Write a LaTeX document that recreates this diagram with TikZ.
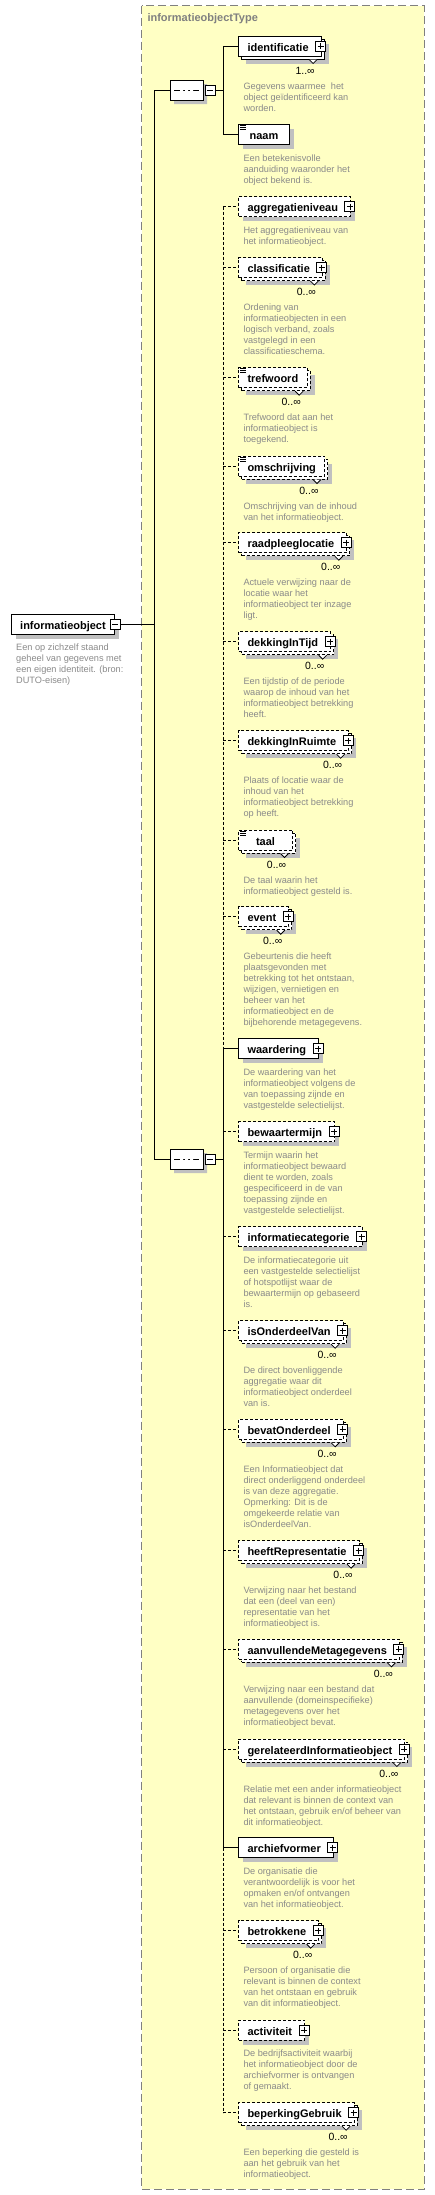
\documentclass[tikz,border=0pt]{standalone}
\usepackage{fontspec}
\setmainfont{Liberation Sans}
\usepackage{xcolor}
\usetikzlibrary{positioning, shapes.misc, shadows}

\definecolor{paneyellow}{RGB}{255,255,196}
\definecolor{paneline}{RGB}{128,128,128}
\definecolor{doctext}{RGB}{138,138,138}
\definecolor{shade}{RGB}{192,192,192}

\begin{document}
\begin{tikzpicture}[
  x=1pt, y=-1pt,
  line width=1pt,
  every node/.style={inner sep=0pt},
  pane/.style    ={draw=paneline, fill=paneyellow, line width=1.2pt, dash pattern=on 8pt off 4pt},
  typename/.style={font=\fontsize{11}{13}\selectfont\bfseries, text=paneline},
  opt/.style     ={dash pattern=on 3pt off 2pt},
  elem/.style    ={draw, fill=white, minimum height=20pt, text height=10pt, text depth=0pt,
                   inner xsep=9pt, anchor=west, font=\fontsize{11}{13}\selectfont\bfseries},
  one/.style     ={elem, general shadow={fill=shade, shadow xshift=4.5pt, shadow yshift=-4.5pt}},
  many/.style    ={elem, general shadow={fill=shade, shadow xshift=7.5pt, shadow yshift=-7.5pt},
                   general shadow={draw, fill=white, shadow xshift=3pt, shadow yshift=-3pt}},
  manyopt/.style ={elem, opt, general shadow={fill=shade, shadow xshift=7.5pt, shadow yshift=-7.5pt},
                   general shadow={draw, fill=white, opt, shadow xshift=3pt, shadow yshift=-3pt}},
  kids/.style    ={execute at end node=\hspace{3.5pt}},
  expand/.style  ={draw, fill=white, minimum size=10pt,
                   path picture={\draw[line width=.9pt]
                     ([xshift=2pt]path picture bounding box.west) -- ([xshift=-2pt]path picture bounding box.east)
                     ([yshift=-2pt]path picture bounding box.north) -- ([yshift=2pt]path picture bounding box.south);}},
  collapse/.style={draw, fill=white, minimum size=10pt,
                   path picture={\draw[line width=.9pt]
                     ([xshift=2pt]path picture bounding box.west) -- ([xshift=-2pt]path picture bounding box.east);}},
  seq/.style     ={chamfered rectangle, chamfered rectangle xsep=5pt, draw, fill=white,
                   minimum width=33pt, minimum height=20pt,
                   general shadow={fill=shade, shadow xshift=4pt, shadow yshift=-4pt},
                   path picture={
                     \draw ([xshift=-12.5pt]path picture bounding box.center) -- ([xshift=12.5pt]path picture bounding box.center);
                     \fill ([xshift=-6.5pt,yshift=1.5pt]path picture bounding box.center) rectangle ++(3,3)
                           ([xshift=-1.5pt,yshift=1.5pt]path picture bounding box.center) rectangle ++(3,3)
                           ([xshift=3.5pt,yshift=1.5pt]path picture bounding box.center) rectangle ++(3,3);}},
  mult/.style    ={anchor=base, font=\fontsize{10.5}{12}\selectfont},
  desc/.style    ={align=left, font=\fontsize{9.2}{11}\selectfont, text=doctext},
  notch/.style   ={fill=white, line width=.8pt},
  typemark/.style={line width=.8pt},
]
\useasboundingbox (0,0) rectangle (435,2195);

% ---- complex type frame ---------------------------------------------------
\draw[pane] (141.7,5.7) rectangle (424.3,2189.3);
\node[typename, anchor=base west] (typename) at (147,21) {informatieobjectType};

% ---- root element -----------------------------------------------------------
\node[one] (root) at (10.7,624) {informatieobject};
\node[collapse] (root-x) at (root.east) {};
\node[desc, below right=8.6pt and 5pt of root.south west] (root-doc)
  {Een op zichzelf staand\\geheel van gegevens met\\een eigen identiteit. (bron:\\DUTO-eisen)};

% ---- sequence compositors ---------------------------------------------------
\node[seq] (seqA) at (186.5,90) {};
\node[collapse, right=1pt of seqA] (seqA-x) {};
\node[seq] (seqB) at (186.5,1159) {};
\node[collapse, right=1pt of seqB] (seqB-x) {};

% ---- first sequence ---------------------------------------------------------
\node[many, kids] (identificatie) at (238,46) {identificatie};
\node[expand] (identificatie-x) at ([xshift=-1pt]identificatie.east) {};
\draw[notch] ([xshift=-12.5pt,yshift=-3pt]identificatie.south east) -- ++(4,4) -- ++(4,-4);
\node[mult] (identificatie-n) at ([xshift=-16.5pt,yshift=-17.5pt]identificatie.south east) {1..∞};
\node[desc, below right=25.5pt and 5pt of identificatie.south west] (identificatie-doc)
  {Gegevens waarmee~ het\\object geïdentificeerd kan\\worden.};

\node[one, minimum width=51pt] (naam) at (238,134.5) {naam};
\draw[typemark] ([xshift=2pt,yshift=-1.5pt]naam.north west) -- ++(6,0)
                ([xshift=2pt,yshift=-3.5pt]naam.north west) -- ++(6,0)
                ([xshift=2pt,yshift=-5.5pt]naam.north west) -- ++(6,0);
\node[desc, below right=9pt and 5pt of naam.south west] (naam-doc)
  {Een betekenisvolle\\aanduiding waaronder het\\object bekend is.};

% ---- second sequence --------------------------------------------------------
\node[one, opt, kids] (aggregatieniveau) at (238,206.5) {aggregatieniveau};
\node[expand] (aggregatieniveau-x) at ([xshift=-1pt]aggregatieniveau.east) {};
\node[desc, below right=9pt and 5pt of aggregatieniveau.south west] (aggregatieniveau-doc)
  {Het aggregatieniveau van\\het informatieobject.};

\node[manyopt, kids] (classificatie) at (238,267.5) {classificatie};
\node[expand] (classificatie-x) at ([xshift=-1pt]classificatie.east) {};
\draw[notch] ([xshift=-12.5pt,yshift=-3pt]classificatie.south east) -- ++(4,4) -- ++(4,-4);
\node[mult] (classificatie-n) at ([xshift=-16.5pt,yshift=-17.5pt]classificatie.south east) {0..∞};
\node[desc, below right=25.5pt and 5pt of classificatie.south west] (classificatie-doc)
  {Ordening van\\informatieobjecten in een\\logisch verband, zoals\\vastgelegd in een\\classificatieschema.};

\node[manyopt] (trefwoord) at (238,377.7) {trefwoord};
\draw[typemark] ([xshift=2pt,yshift=-1.5pt]trefwoord.north west) -- ++(6,0)
                ([xshift=2pt,yshift=-3.5pt]trefwoord.north west) -- ++(6,0)
                ([xshift=2pt,yshift=-5.5pt]trefwoord.north west) -- ++(6,0);
\draw[notch] ([xshift=-12.5pt,yshift=-3pt]trefwoord.south east) -- ++(4,4) -- ++(4,-4);
\node[mult] (trefwoord-n) at ([xshift=-16.5pt,yshift=-17.5pt]trefwoord.south east) {0..∞};
\node[desc, below right=25.5pt and 5pt of trefwoord.south west] (trefwoord-doc)
  {Trefwoord dat aan het\\informatieobject is\\toegekend.};

\node[manyopt] (omschrijving) at (238,466) {omschrijving};
\draw[typemark] ([xshift=2pt,yshift=-1.5pt]omschrijving.north west) -- ++(6,0)
                ([xshift=2pt,yshift=-3.5pt]omschrijving.north west) -- ++(6,0)
                ([xshift=2pt,yshift=-5.5pt]omschrijving.north west) -- ++(6,0);
\draw[notch] ([xshift=-12.5pt,yshift=-3pt]omschrijving.south east) -- ++(4,4) -- ++(4,-4);
\node[mult] (omschrijving-n) at ([xshift=-16.5pt,yshift=-17.5pt]omschrijving.south east) {0..∞};
\node[desc, below right=25.5pt and 5pt of omschrijving.south west] (omschrijving-doc)
  {Omschrijving van de inhoud\\van het informatieobject.};

\node[manyopt, kids] (raadpleeglocatie) at (238,542.7) {raadpleeglocatie};
\node[expand] (raadpleeglocatie-x) at ([xshift=-1pt]raadpleeglocatie.east) {};
\draw[notch] ([xshift=-12.5pt,yshift=-3pt]raadpleeglocatie.south east) -- ++(4,4) -- ++(4,-4);
\node[mult] (raadpleeglocatie-n) at ([xshift=-16.5pt,yshift=-17.5pt]raadpleeglocatie.south east) {0..∞};
\node[desc, below right=25.5pt and 5pt of raadpleeglocatie.south west] (raadpleeglocatie-doc)
  {Actuele verwijzing naar de\\locatie waar het\\informatieobject ter inzage\\ligt.};

\node[manyopt, kids] (dekkingInTijd) at (238,641.7) {dekkingInTijd};
\node[expand] (dekkingInTijd-x) at ([xshift=-1pt]dekkingInTijd.east) {};
\draw[notch] ([xshift=-12.5pt,yshift=-3pt]dekkingInTijd.south east) -- ++(4,4) -- ++(4,-4);
\node[mult] (dekkingInTijd-n) at ([xshift=-16.5pt,yshift=-17.5pt]dekkingInTijd.south east) {0..∞};
\node[desc, below right=25.5pt and 5pt of dekkingInTijd.south west] (dekkingInTijd-doc)
  {Een tijdstip of de periode\\waarop de inhoud van het\\informatieobject betrekking\\heeft.};

\node[manyopt, kids] (dekkingInRuimte) at (238,740.7) {dekkingInRuimte};
\node[expand] (dekkingInRuimte-x) at ([xshift=-1pt]dekkingInRuimte.east) {};
\draw[notch] ([xshift=-12.5pt,yshift=-3pt]dekkingInRuimte.south east) -- ++(4,4) -- ++(4,-4);
\node[mult] (dekkingInRuimte-n) at ([xshift=-16.5pt,yshift=-17.5pt]dekkingInRuimte.south east) {0..∞};
\node[desc, below right=25.5pt and 5pt of dekkingInRuimte.south west] (dekkingInRuimte-doc)
  {Plaats of locatie waar de\\inhoud van het\\informatieobject betrekking\\op heeft.};

\node[manyopt, minimum width=54pt] (taal) at (238,840) {taal};
\draw[typemark] ([xshift=2pt,yshift=-1.5pt]taal.north west) -- ++(6,0)
                ([xshift=2pt,yshift=-3.5pt]taal.north west) -- ++(6,0)
                ([xshift=2pt,yshift=-5.5pt]taal.north west) -- ++(6,0);
\draw[notch] ([xshift=-12.5pt,yshift=-3pt]taal.south east) -- ++(4,4) -- ++(4,-4);
\node[mult] (taal-n) at ([xshift=-16.5pt,yshift=-17.5pt]taal.south east) {0..∞};
\node[desc, below right=25.5pt and 5pt of taal.south west] (taal-doc)
  {De taal waarin het\\informatieobject gesteld is.};

\node[manyopt, kids] (event) at (238,916.7) {event};
\node[expand] (event-x) at ([xshift=-1pt]event.east) {};
\draw[notch] ([xshift=-12.5pt,yshift=-3pt]event.south east) -- ++(4,4) -- ++(4,-4);
\node[mult] (event-n) at ([xshift=-16.5pt,yshift=-17.5pt]event.south east) {0..∞};
\node[desc, below right=25.5pt and 5pt of event.south west] (event-doc)
  {Gebeurtenis die heeft\\plaatsgevonden met\\betrekking tot het ontstaan,\\wijzigen, vernietigen en\\beheer van het\\informatieobject en de\\bijbehorende metagegevens.};

\node[one, kids] (waardering) at (238,1048.7) {waardering};
\node[expand] (waardering-x) at ([xshift=-1pt]waardering.east) {};
\node[desc, below right=9pt and 5pt of waardering.south west] (waardering-doc)
  {De waardering van het\\informatieobject volgens de\\van toepassing zijnde en\\vastgestelde selectielijst.};

\node[one, opt, kids] (bewaartermijn) at (238,1131.7) {bewaartermijn};
\node[expand] (bewaartermijn-x) at ([xshift=-1pt]bewaartermijn.east) {};
\node[desc, below right=9pt and 5pt of bewaartermijn.south west] (bewaartermijn-doc)
  {Termijn waarin het\\informatieobject bewaard\\dient te worden, zoals\\gespecificeerd in de van\\toepassing zijnde en\\vastgestelde selectielijst.};

\node[one, opt, kids] (informatiecategorie) at (238,1236.7) {informatiecategorie};
\node[expand] (informatiecategorie-x) at ([xshift=-1pt]informatiecategorie.east) {};
\node[desc, below right=9pt and 5pt of informatiecategorie.south west] (informatiecategorie-doc)
  {De informatiecategorie uit\\een vastgestelde selectielijst\\of hotspotlijst waar de\\bewaartermijn op gebaseerd\\is.};

\node[manyopt, kids] (isOnderdeelVan) at (238,1330.7) {isOnderdeelVan};
\node[expand] (isOnderdeelVan-x) at ([xshift=-1pt]isOnderdeelVan.east) {};
\draw[notch] ([xshift=-12.5pt,yshift=-3pt]isOnderdeelVan.south east) -- ++(4,4) -- ++(4,-4);
\node[mult] (isOnderdeelVan-n) at ([xshift=-16.5pt,yshift=-17.5pt]isOnderdeelVan.south east) {0..∞};
\node[desc, below right=25.5pt and 5pt of isOnderdeelVan.south west] (isOnderdeelVan-doc)
  {De direct bovenliggende\\aggregatie waar dit\\informatieobject onderdeel\\van is.};

\node[manyopt, kids] (bevatOnderdeel) at (238,1429.3) {bevatOnderdeel};
\node[expand] (bevatOnderdeel-x) at ([xshift=-1pt]bevatOnderdeel.east) {};
\draw[notch] ([xshift=-12.5pt,yshift=-3pt]bevatOnderdeel.south east) -- ++(4,4) -- ++(4,-4);
\node[mult] (bevatOnderdeel-n) at ([xshift=-16.5pt,yshift=-17.5pt]bevatOnderdeel.south east) {0..∞};
\node[desc, below right=25.5pt and 5pt of bevatOnderdeel.south west] (bevatOnderdeel-doc)
  {Een Informatieobject dat\\direct onderliggend onderdeel\\is van deze aggregatie.\\Opmerking: Dit is de\\omgekeerde relatie van\\isOnderdeelVan.};

\node[manyopt, kids] (heeftRepresentatie) at (238,1550.7) {heeftRepresentatie};
\node[expand] (heeftRepresentatie-x) at ([xshift=-1pt]heeftRepresentatie.east) {};
\draw[notch] ([xshift=-12.5pt,yshift=-3pt]heeftRepresentatie.south east) -- ++(4,4) -- ++(4,-4);
\node[mult] (heeftRepresentatie-n) at ([xshift=-16.5pt,yshift=-17.5pt]heeftRepresentatie.south east) {0..∞};
\node[desc, below right=25.5pt and 5pt of heeftRepresentatie.south west] (heeftRepresentatie-doc)
  {Verwijzing naar het bestand\\dat een (deel van een)\\representatie van het\\informatieobject is.};

\node[manyopt, kids] (aanvullendeMetagegevens) at (238,1649.3) {aanvullendeMetagegevens};
\node[expand] (aanvullendeMetagegevens-x) at ([xshift=-1pt]aanvullendeMetagegevens.east) {};
\draw[notch] ([xshift=-12.5pt,yshift=-3pt]aanvullendeMetagegevens.south east) -- ++(4,4) -- ++(4,-4);
\node[mult] (aanvullendeMetagegevens-n) at ([xshift=-16.5pt,yshift=-17.5pt]aanvullendeMetagegevens.south east) {0..∞};
\node[desc, below right=25.5pt and 5pt of aanvullendeMetagegevens.south west] (aanvullendeMetagegevens-doc)
  {Verwijzing naar een bestand dat\\aanvullende (domeinspecifieke)\\metagegevens over het\\informatieobject bevat.};

\node[manyopt, kids] (gerelateerdInformatieobject) at (238,1749) {gerelateerdInformatieobject};
\node[expand] (gerelateerdInformatieobject-x) at ([xshift=-1pt]gerelateerdInformatieobject.east) {};
\draw[notch] ([xshift=-12.5pt,yshift=-3pt]gerelateerdInformatieobject.south east) -- ++(4,4) -- ++(4,-4);
\node[mult] (gerelateerdInformatieobject-n) at ([xshift=-16.5pt,yshift=-17.5pt]gerelateerdInformatieobject.south east) {0..∞};
\node[desc, below right=25.5pt and 5pt of gerelateerdInformatieobject.south west] (gerelateerdInformatieobject-doc)
  {Relatie met een ander informatieobject\\dat relevant is binnen de context van\\het ontstaan, gebruik en/of beheer van\\dit informatieobject.};

\node[one, kids] (archiefvormer) at (238,1847.7) {archiefvormer};
\node[expand] (archiefvormer-x) at ([xshift=-1pt]archiefvormer.east) {};
\node[desc, below right=9pt and 5pt of archiefvormer.south west] (archiefvormer-doc)
  {De organisatie die\\verantwoordelijk is voor het\\opmaken en/of ontvangen\\van het informatieobject.};

\node[manyopt, kids] (betrokkene) at (238,1930.7) {betrokkene};
\node[expand] (betrokkene-x) at ([xshift=-1pt]betrokkene.east) {};
\draw[notch] ([xshift=-12.5pt,yshift=-3pt]betrokkene.south east) -- ++(4,4) -- ++(4,-4);
\node[mult] (betrokkene-n) at ([xshift=-16.5pt,yshift=-17.5pt]betrokkene.south east) {0..∞};
\node[desc, below right=25.5pt and 5pt of betrokkene.south west] (betrokkene-doc)
  {Persoon of organisatie die\\relevant is binnen de context\\van het ontstaan en gebruik\\van dit informatieobject.};

\node[one, opt, kids] (activiteit) at (238,2030) {activiteit};
\node[expand] (activiteit-x) at ([xshift=-1pt]activiteit.east) {};
\node[desc, below right=9pt and 5pt of activiteit.south west] (activiteit-doc)
  {De bedrijfsactiviteit waarbij\\het informatieobject door de\\archiefvormer is ontvangen\\of gemaakt.};

\node[manyopt, kids] (beperkingGebruik) at (238,2112.7) {beperkingGebruik};
\node[expand] (beperkingGebruik-x) at ([xshift=-1pt]beperkingGebruik.east) {};
\draw[notch] ([xshift=-12.5pt,yshift=-3pt]beperkingGebruik.south east) -- ++(4,4) -- ++(4,-4);
\node[mult] (beperkingGebruik-n) at ([xshift=-16.5pt,yshift=-17.5pt]beperkingGebruik.south east) {0..∞};
\node[desc, below right=25.5pt and 5pt of beperkingGebruik.south west] (beperkingGebruik-doc)
  {Een beperking die gesteld is\\aan het gebruik van het\\informatieobject.};

% ---- connectors -------------------------------------------------------------
\coordinate (trunk) at (154.3,624);
\coordinate (busA)  at (223.3,90);
\coordinate (busB)  at (223.3,1159);

\draw (root-x.east) -- (root-x.east -| trunk);
\draw (seqA.west) -- (seqA.west -| trunk) -- (seqB.west -| trunk) -- (seqB.west);

\draw (seqA-x.east) -- (seqA-x.east -| busA);
\draw (busA |- identificatie.west) -- (busA |- naam.west);
\draw (busA |- identificatie.west) -- (identificatie.west);
\draw (busA |- naam.west) -- (naam.west);

\draw (seqB-x.east) -- (seqB-x.east -| busB);
\draw[opt] (busB |- aggregatieniveau.west) -- (busB |- waardering.west);
\draw      (busB |- waardering.west) -- (busB |- archiefvormer.west);
\draw[opt] (busB |- archiefvormer.west) -- (busB |- beperkingGebruik.west);

\draw[opt] (busB |- aggregatieniveau.west) -- (aggregatieniveau.west);
\draw[opt] (busB |- classificatie.west) -- (classificatie.west);
\draw[opt] (busB |- trefwoord.west) -- (trefwoord.west);
\draw[opt] (busB |- omschrijving.west) -- (omschrijving.west);
\draw[opt] (busB |- raadpleeglocatie.west) -- (raadpleeglocatie.west);
\draw[opt] (busB |- dekkingInTijd.west) -- (dekkingInTijd.west);
\draw[opt] (busB |- dekkingInRuimte.west) -- (dekkingInRuimte.west);
\draw[opt] (busB |- taal.west) -- (taal.west);
\draw[opt] (busB |- event.west) -- (event.west);
\draw      (busB |- waardering.west) -- (waardering.west);
\draw[opt] (busB |- bewaartermijn.west) -- (bewaartermijn.west);
\draw[opt] (busB |- informatiecategorie.west) -- (informatiecategorie.west);
\draw[opt] (busB |- isOnderdeelVan.west) -- (isOnderdeelVan.west);
\draw[opt] (busB |- bevatOnderdeel.west) -- (bevatOnderdeel.west);
\draw[opt] (busB |- heeftRepresentatie.west) -- (heeftRepresentatie.west);
\draw[opt] (busB |- aanvullendeMetagegevens.west) -- (aanvullendeMetagegevens.west);
\draw[opt] (busB |- gerelateerdInformatieobject.west) -- (gerelateerdInformatieobject.west);
\draw      (busB |- archiefvormer.west) -- (archiefvormer.west);
\draw[opt] (busB |- betrokkene.west) -- (betrokkene.west);
\draw[opt] (busB |- activiteit.west) -- (activiteit.west);
\draw[opt] (busB |- beperkingGebruik.west) -- (beperkingGebruik.west);
\end{tikzpicture}
\end{document}
